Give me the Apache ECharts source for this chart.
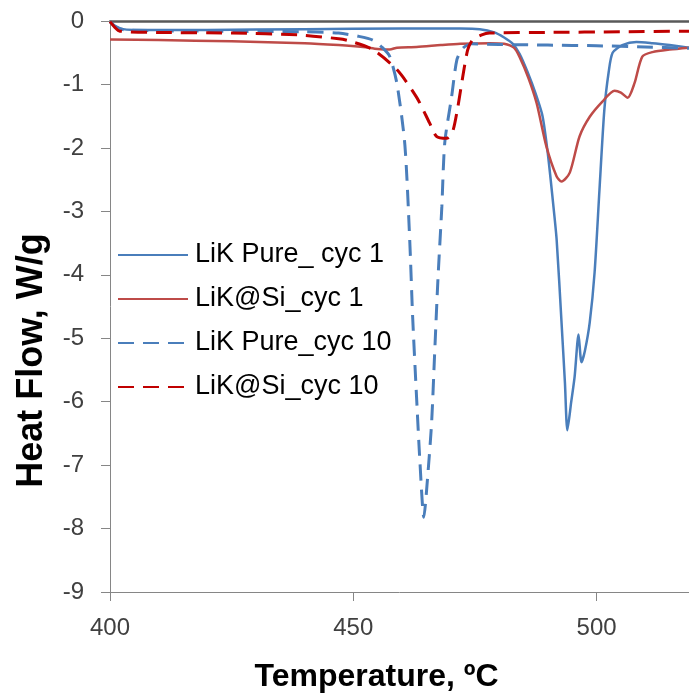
<!DOCTYPE html>
<html>
<head>
<meta charset="utf-8">
<script src="https://cdn.jsdelivr.net/npm/echarts@6/dist/echarts.min.js"></script>
<style>html,body{margin:0;padding:0;background:#fff}#c{width:689px;height:698px}</style>
</head>
<body>
<div id="c"></div>
<script>
// Series names
var seriesNames = ['LiK Pure_ cyc 1', 'LiK@Si_cyc 1', 'LiK Pure_cyc 10', 'LiK@Si_cyc 10'];

// [Temperature °C, Heat flow W/g]
var pureCyc1 = [[400,-0.01],[401,-0.08],[402,-0.12],[405,-0.14],[420,-0.14],[440,-0.13],[460,-0.12],[472,-0.12],[476,-0.13],[479,-0.18],[481,-0.26],[482.8,-0.36],[484.2,-0.52],[485.8,-0.8],[487.5,-1.15],[488.9,-1.5],[490,-2.1],[491,-2.82],[491.8,-3.45],[492.8,-4.75],[493.5,-5.7],[494,-6.45],[494.8,-6.0],[495.5,-5.6],[496.3,-4.94],[496.9,-5.38],[497.6,-5.2],[498.6,-4.75],[499.6,-3.96],[500.6,-2.66],[501.6,-1.4],[502.5,-0.8],[503.3,-0.5],[505.3,-0.38],[508.2,-0.33],[511.5,-0.35],[515,-0.38],[519,-0.42]];

var siCyc1 = [[400,-0.29],[410,-0.3],[425,-0.32],[440,-0.35],[447,-0.38],[452,-0.41],[455,-0.44],[457.5,-0.45],[459,-0.42],[463,-0.41],[468,-0.38],[472,-0.36],[478,-0.35],[481,-0.36],[483,-0.42],[484.2,-0.57],[486,-0.9],[487.7,-1.3],[489.7,-1.98],[491.8,-2.45],[492.8,-2.53],[494.5,-2.39],[496.5,-1.82],[498.6,-1.51],[501.2,-1.27],[503.7,-1.1],[505,-1.13],[506.4,-1.21],[507.8,-0.98],[509.4,-0.56],[511.5,-0.49],[515,-0.45],[519,-0.42]];

var pureCyc10 = [[400,-0.01],[401,-0.08],[403,-0.14],[420,-0.16],[440,-0.17],[447,-0.19],[451,-0.24],[454,-0.3],[456,-0.42],[457.5,-0.56],[459,-1.0],[460.6,-1.95],[461.6,-3.45],[462.2,-4.66],[463,-5.92],[463.7,-6.95],[464.5,-7.82],[465.3,-7.17],[466.1,-6.33],[466.7,-5.28],[467.4,-4.07],[468.2,-2.93],[468.8,-1.92],[470.2,-1.2],[471.3,-0.61],[472.5,-0.43],[474.3,-0.36],[480,-0.37],[490,-0.38],[500,-0.39],[510,-0.41],[519,-0.43]];

var siCyc10 = [[400,-0.01],[401,-0.1],[402,-0.16],[410,-0.18],[425,-0.19],[439,-0.22],[447,-0.28],[449,-0.31],[454,-0.45],[459,-0.77],[463,-1.2],[465.7,-1.61],[467.1,-1.82],[469.2,-1.85],[470.4,-1.75],[471.5,-1.35],[472.5,-0.88],[473.5,-0.46],[474.5,-0.3],[476.4,-0.22],[478,-0.19],[490,-0.18],[505,-0.17],[519,-0.16]];

var xTicks = [400, 450, 500];
var yTicks = [0,-1,-2,-3,-4,-5,-6,-7,-8,-9];

var font = 'Liberation Sans';
var chart = echarts.init(document.getElementById('c'), null, {renderer: 'canvas'});

function mk(name, data, color, dashed, width) {
  return {
    name: name, type: 'line', data: data, symbol: 'none', smooth: 0.25,
    lineStyle: {color: color, width: width, type: dashed ? [16, 9] : 'solid'},
    itemStyle: {color: color},
    animation: false
  };
}

chart.setOption({
  animation: false,
  grid: {left: 110, right: 0, top: 21, bottom: 105, containLabel: false},
  legend: {
    orient: 'vertical', left: 112, top: 235,
    itemWidth: 70, itemHeight: 14, itemGap: 14,
    itemStyle: {opacity: 0},
    textStyle: {fontFamily: font, fontSize: 27, color: '#000', lineHeight: 30, padding: [0,0,0,2]},
    data: seriesNames
  },
  xAxis: [{
    type: 'value', min: 400, max: 519, interval: 50, position: 'bottom',
    axisLine: {onZero: false, lineStyle: {color: '#868686', width: 1}},
    axisTick: {show: true, inside: false, length: 9, lineStyle: {color: '#868686'}, customValues: xTicks},
    splitLine: {show: false},
    axisLabel: {fontFamily: font, fontSize: 24, color: '#404040', margin: 24, customValues: xTicks,
      formatter: function (v) { return xTicks.indexOf(v) >= 0 ? String(v) : ''; }},
    name: 'Temperature, ºC', nameLocation: 'middle', nameGap: 69,
    nameTextStyle: {fontFamily: font, fontSize: 32, fontWeight: 'bold', color: '#000', padding: [0, 46, 0, 0]}
  }, {
    type: 'value', min: 400, max: 519, position: 'top',
    axisLine: {show: true, onZero: false, lineStyle: {color: '#595959', width: 2.5}},
    axisTick: {show: false}, axisLabel: {show: false}, splitLine: {show: false}
  }],
  yAxis: {
    type: 'value', min: -9, max: 0, interval: 1,
    axisLine: {show: true, onZero: false, lineStyle: {color: '#868686', width: 1}},
    axisTick: {show: true, inside: false, length: 9, lineStyle: {color: '#868686'}},
    splitLine: {show: false},
    axisLabel: {fontFamily: font, fontSize: 24, color: '#404040', margin: 26,
      formatter: function (v) { return yTicks.indexOf(v) >= 0 ? String(v) : ''; }},
    name: 'Heat Flow, W/g', nameLocation: 'middle', nameGap: 60,
    nameTextStyle: {fontFamily: font, fontSize: 36, fontWeight: 'bold', color: '#000', padding: [0, 108, 0, 0]}
  },
  series: [
    mk(seriesNames[0], pureCyc1, '#4a7ebb', false, 2.5),
    mk(seriesNames[1], siCyc1, '#be4b48', false, 2.5),
    mk(seriesNames[2], pureCyc10, '#4a7ebb', true, 3),
    mk(seriesNames[3], siCyc10, '#c00000', true, 3)
  ]
});
</script>
</body>
</html>
